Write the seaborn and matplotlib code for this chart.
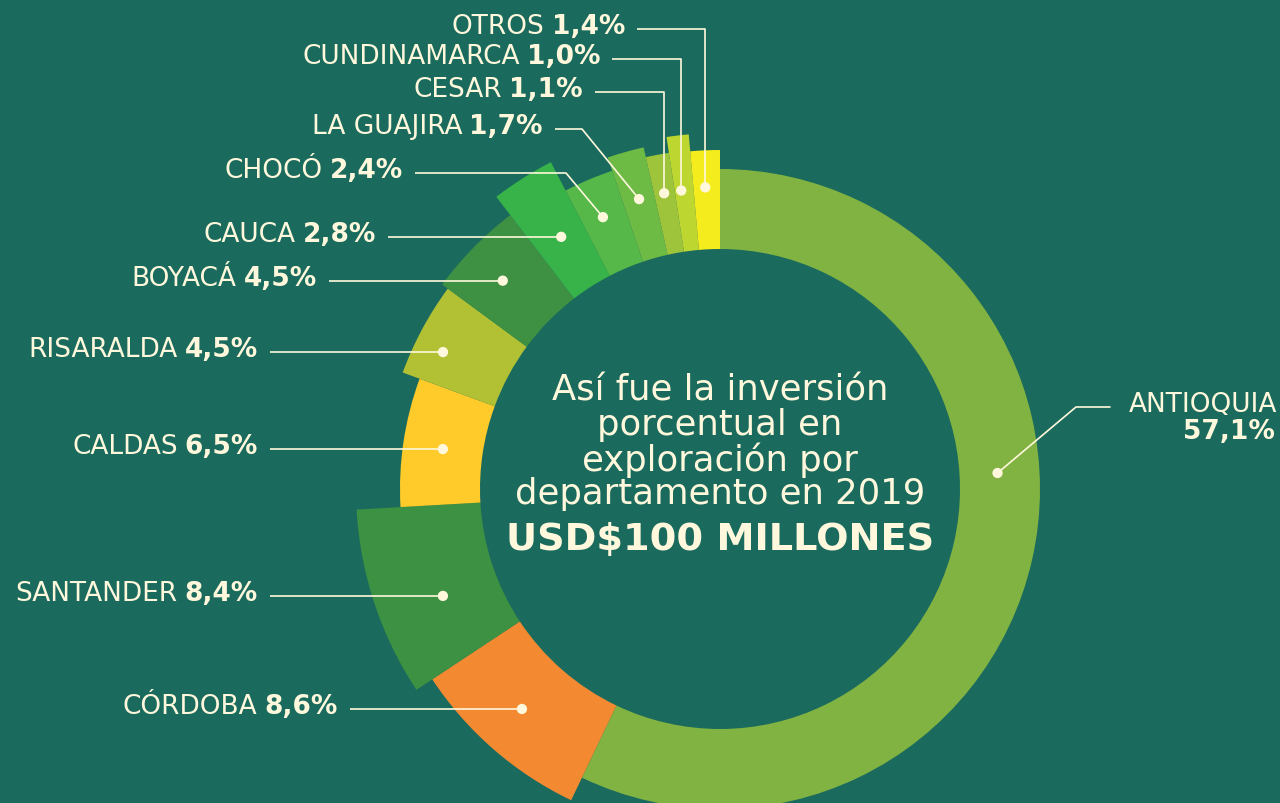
import numpy as np
import pandas as pd
import matplotlib.pyplot as plt
from matplotlib.patches import Wedge
import seaborn as sns

# data, clockwise from 12 o'clock
deptos = ["ANTIOQUIA", "CÓRDOBA", "SANTANDER", "CALDAS", "RISARALDA", "BOYACÁ",
          "CAUCA", "CHOCÓ", "LA GUAJIRA", "CESAR", "CUNDINAMARCA", "OTROS"]
porcentaje = [57.1, 8.6, 8.4, 6.5, 4.5, 4.5, 2.8, 2.4, 1.7, 1.1, 1.0, 1.4]
titulo = ["Así fue la inversión", "porcentual en", "exploración por",
          "departamento en 2019"]
total = "USD$100 MILLONES"

colores = ["#80b341", "#f38a31", "#3d9142", "#fecb2a", "#b2c134", "#3e9143",
           "#37b34a", "#55b848", "#6dba45", "#9dc43b", "#bdd630", "#f5ec1e"]

# layout (pixels / degrees)
BG = "#1b6a5e"
CREAM = "#fff8dc"
CX, CY = 720, 490
R_IN = 240
R_OUT = [320, 345, 364, 320, 338, 345, 368, 336, 350, 340, 356, 339]
DOT_R = [278, 296, 297, 280, 309, 301, 298, 296, 301, 301, 301, 302]
DOT_ANG = [86.7, 222, 248.9, 278.2, 296.3, 313.8, 327.8, 336.7, 344.4,
           349.3, 352.6, 357.2]

sns.set_style("white", {"axes.facecolor": BG, "figure.facecolor": BG})
plt.rcParams["font.family"] = ["DejaVu Sans"]

fig = plt.figure(figsize=(12.8, 8.04), dpi=100)
ax = fig.add_axes([0, 0, 1, 1])

df = pd.DataFrame({"depto": deptos, "pct": porcentaje})
df["a2"] = df["pct"].cumsum() / df["pct"].sum() * 360
df["a1"] = df["a2"] - df["pct"] / df["pct"].sum() * 360

# y axis points down, so wedge theta = clockwise-from-top angle - 90
for i, row in df.iterrows():
    ax.add_patch(Wedge((CX, CY), R_OUT[i], row["a1"] - 90, row["a2"] - 90,
                       width=R_OUT[i] - R_IN, facecolor=colores[i],
                       edgecolor="none"))

rad = np.deg2rad(DOT_ANG)
df["dx"] = CX + np.array(DOT_R) * np.sin(rad)
df["dy"] = CY - np.array(DOT_R) * np.cos(rad)

# label anchors: right end of text, line y, line shape
lab = {
    "OTROS": (625, 30, "vert"),
    "CUNDINAMARCA": (600, 60, "vert"),
    "CESAR": (583, 93, "vert"),
    "LA GUAJIRA": (543, 130, 582),
    "CHOCÓ": (403, 174, 566),
    "CAUCA": (376, None, "horiz"),
    "BOYACÁ": (317, None, "horiz"),
    "RISARALDA": (258, None, "horiz"),
    "CALDAS": (258, None, "horiz"),
    "SANTANDER": (258, None, "horiz"),
    "CÓRDOBA": (338, None, "horiz"),
}

fs = 19
lw = 1.2
for i, row in df.iterrows():
    name = row["depto"]
    if name not in lab:
        continue
    xr, yl, kind = lab[name]
    dx, dy = row["dx"], row["dy"]
    if yl is None:
        yl = dy
    x0 = xr + 12
    if kind == "vert":
        xs, ys = [x0, dx, dx], [yl, yl, dy]
    elif kind == "horiz":
        xs, ys = [x0, dx], [yl, dy]
    else:
        xs, ys = [x0, kind, dx], [yl, yl, dy]
    ax.plot(xs, ys, color=CREAM, lw=lw, solid_capstyle="butt", zorder=3)
    val = f"{row['pct']:.1f}".replace(".", ",") + "%"
    t = ax.text(xr, yl - 3, val, color=CREAM, fontsize=fs, fontweight="bold",
                ha="right", va="center")
    ax.annotate(name, xy=(0, 0), xycoords=t, xytext=(-7, 0),
                textcoords="offset pixels", ha="right", va="bottom",
                color=CREAM, fontsize=fs)

# Antioquia label on the right
a = df.iloc[0]
ax.plot([1110, 1076, a["dx"]], [408, 408, a["dy"]], color=CREAM, lw=lw, zorder=3)
ax.text(1277, 405, "ANTIOQUIA", color=CREAM, fontsize=fs, ha="right", va="center")
ax.text(1275, 432, f"{a['pct']:.1f}".replace(".", ",") + "%", color=CREAM,
        fontsize=fs, fontweight="bold", ha="right", va="center")

sns.scatterplot(data=df, x="dx", y="dy", color=CREAM, s=55, edgecolor="none",
                ax=ax, zorder=4, legend=False)
ax.set_xlim(0, 1280)
ax.set_ylim(804, 0)
ax.axis("off")

# center text
for k, line in enumerate(titulo):
    ax.text(CX, 391 + k * 34.5, line, color=CREAM, fontsize=25.5,
            ha="center", va="center")
ax.text(CX, 540, total, color=CREAM, fontsize=27.5, fontweight="bold",
        ha="center", va="center")

fig.savefig("out.png", dpi=100, facecolor=BG)
